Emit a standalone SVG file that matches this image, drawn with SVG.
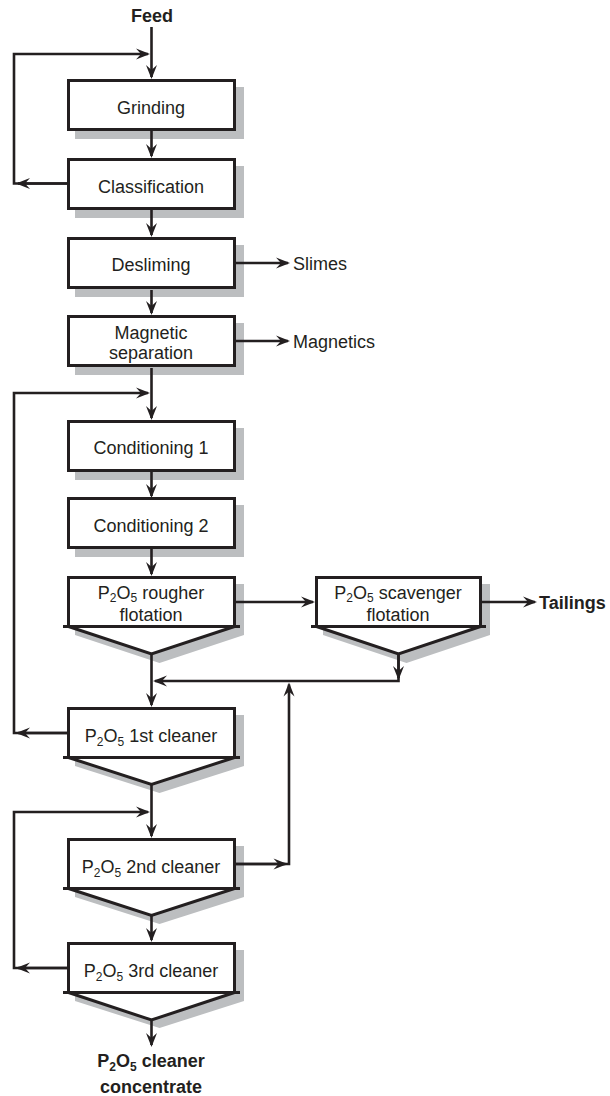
<svg xmlns="http://www.w3.org/2000/svg" width="610" height="1096" viewBox="0 0 610 1096">
  <style>
    .shadow { fill: #bcbec0; stroke: none; }
    .box { fill: #ffffff; stroke: #231f20; stroke-width: 3; }
    .cone { fill: #ffffff; stroke: #231f20; stroke-width: 3; stroke-linejoin: miter; }
    .lip { fill: none; stroke: #231f20; stroke-width: 3; }
    .lbl { font-family: "Liberation Sans", Arial, sans-serif; font-size: 18px; fill: #231f20; text-anchor: middle; }
    .out { font-family: "Liberation Sans", Arial, sans-serif; font-size: 18px; fill: #231f20; }
    .bold { font-weight: bold; }
    .sub { font-size: 12px; }
    .flow { fill: none; stroke: #231f20; stroke-width: 2.6; marker-end: url(#ah); }
  </style>
  <defs>
    <marker id="ah" viewBox="0 0 16 12" refX="13" refY="6" markerWidth="16" markerHeight="12" markerUnits="userSpaceOnUse" orient="auto">
      <path d="M15,6 L1,0.5 L6,6 L1,11.5 Z" fill="#231f20"/>
    </marker>
  </defs>

  <rect width="610" height="1096" fill="#ffffff"/>

  <!-- process units -->
  <g id="grinding">
    <rect class="shadow" x="75" y="87" width="169" height="52"/>
    <rect class="box" x="68.5" y="80.5" width="166" height="49"/>
    <text class="lbl" x="151" y="113.5">Grinding</text>
  </g>
  <g id="classification">
    <rect class="shadow" x="75" y="166" width="169" height="52"/>
    <rect class="box" x="68.5" y="159.5" width="166" height="49"/>
    <text class="lbl" x="151" y="192.5">Classification</text>
  </g>
  <g id="desliming">
    <rect class="shadow" x="75" y="245" width="169" height="52"/>
    <rect class="box" x="68.5" y="238.5" width="166" height="49"/>
    <text class="lbl" x="151" y="271">Desliming</text>
  </g>
  <g id="magnetic-separation">
    <rect class="shadow" x="75" y="323" width="169" height="52"/>
    <rect class="box" x="68.5" y="316.5" width="166" height="49"/>
    <text class="lbl" x="151" y="338.5">Magnetic</text>
    <text class="lbl" x="151" y="359">separation</text>
  </g>
  <g id="conditioning-1">
    <rect class="shadow" x="75" y="428" width="169" height="52"/>
    <rect class="box" x="68.5" y="421.5" width="166" height="49"/>
    <text class="lbl" x="151" y="454">Conditioning  1</text>
  </g>
  <g id="conditioning-2">
    <rect class="shadow" x="75" y="505" width="169" height="52"/>
    <rect class="box" x="68.5" y="498.5" width="166" height="49"/>
    <text class="lbl" x="151" y="531.5">Conditioning  2</text>
  </g>

  <!-- flotation cells: box with a conical underflow -->
  <g id="rougher-flotation">
    <polygon class="shadow" points="75,584 244,584 244,635 159.5,663 75,635"/>
    <polygon class="cone" points="68.5,626.5 151.5,654 234.5,626.5"/>
    <rect class="box" x="68.5" y="577.5" width="166" height="49"/>
    <path class="lip" d="M63,626.5 H240"/>
    <text class="lbl" x="151" y="598.5">P<tspan class="sub" dy="3.5">2</tspan><tspan dy="-3.5">O</tspan><tspan class="sub" dy="3.5">5</tspan><tspan dy="-3.5"> rougher</tspan></text>
    <text class="lbl" x="151" y="620.5">flotation</text>
  </g>
  <g id="scavenger-flotation">
    <polygon class="shadow" points="323,584 490,584 490,635 406.5,663 323,635"/>
    <polygon class="cone" points="316.5,626.5 398.5,654 480.5,626.5"/>
    <rect class="box" x="316.5" y="577.5" width="164" height="49"/>
    <path class="lip" d="M311,626.5 H486"/>
    <text class="lbl" x="398" y="598.5">P<tspan class="sub" dy="3.5">2</tspan><tspan dy="-3.5">O</tspan><tspan class="sub" dy="3.5">5</tspan><tspan dy="-3.5"> scavenger</tspan></text>
    <text class="lbl" x="398" y="620.5">flotation</text>
  </g>
  <g id="cleaner-1">
    <polygon class="shadow" points="75,715 244,715 244,766 159.5,793 75,766"/>
    <polygon class="cone" points="68.5,757.5 151.5,784.5 234.5,757.5"/>
    <rect class="box" x="68.5" y="708.5" width="166" height="49"/>
    <path class="lip" d="M63,757.5 H240"/>
    <text class="lbl" x="151" y="741.5">P<tspan class="sub" dy="4">2</tspan><tspan dy="-4">O</tspan><tspan class="sub" dy="4">5</tspan><tspan dy="-4"> 1st cleaner</tspan></text>
  </g>
  <g id="cleaner-2">
    <polygon class="shadow" points="75,846 244,846 244,897 159.5,924 75,897"/>
    <polygon class="cone" points="68.5,888.5 151.5,915.5 234.5,888.5"/>
    <rect class="box" x="68.5" y="839.5" width="166" height="49"/>
    <path class="lip" d="M63,888.5 H240"/>
    <text class="lbl" x="151" y="872.5">P<tspan class="sub" dy="4">2</tspan><tspan dy="-4">O</tspan><tspan class="sub" dy="4">5</tspan><tspan dy="-4"> 2nd cleaner</tspan></text>
  </g>
  <g id="cleaner-3">
    <polygon class="shadow" points="75,950 244,950 244,1001 159.5,1028 75,1001"/>
    <polygon class="cone" points="68.5,992.5 151.5,1020 234.5,992.5"/>
    <rect class="box" x="68.5" y="943.5" width="166" height="49"/>
    <path class="lip" d="M63,992.5 H240"/>
    <text class="lbl" x="151" y="976.5">P<tspan class="sub" dy="4">2</tspan><tspan dy="-4">O</tspan><tspan class="sub" dy="4">5</tspan><tspan dy="-4"> 3rd cleaner</tspan></text>
  </g>

  <!-- stream labels -->
  <g id="feed">
    <text class="lbl bold" x="152" y="22">Feed</text>
  </g>
  <g id="slimes">
    <text class="out" x="293" y="270">Slimes</text>
  </g>
  <g id="magnetics">
    <text class="out" x="293" y="348">Magnetics</text>
  </g>
  <g id="tailings">
    <text class="out bold" x="539" y="609">Tailings</text>
  </g>
  <g id="concentrate">
    <text class="lbl bold" x="151" y="1067">P<tspan class="sub" dy="4">2</tspan><tspan dy="-4">O</tspan><tspan class="sub" dy="4">5</tspan><tspan dy="-4"> cleaner</tspan></text>
    <text class="lbl bold" x="151" y="1093">concentrate</text>
  </g>

  <!-- streams -->
  <g id="connectors">
    <path class="flow" d="M151.5,27 V77"/>
    <path class="flow" d="M67,183.5 H14 V54 H148"/>
    <path class="flow" d="M67,183.5 H18"/>
    <path class="flow" d="M151.5,131 V156"/>
    <path class="flow" d="M151.5,210 V235"/>
    <path class="flow" d="M236,263 H288"/>
    <path class="flow" d="M151.5,290 V313"/>
    <path class="flow" d="M236,341 H288"/>
    <path class="flow" d="M151.5,368 V418"/>
    <path class="flow" d="M67,733 H14 V393 H148"/>
    <path class="flow" d="M67,733 H18"/>
    <path class="flow" d="M151.5,472 V496"/>
    <path class="flow" d="M151.5,549 V574"/>
    <path class="flow" d="M236,602 H313"/>
    <path class="flow" d="M482,602 H535"/>
    <path class="flow" d="M151.5,655 V705"/>
    <path class="flow" d="M398.5,655 V681 H155"/>
    <path class="flow" d="M398.5,655 V678"/>
    <path class="flow" d="M236,864 H289 V684.5"/>
    <path class="flow" d="M236,864 H285.5"/>
    <path class="flow" d="M151.5,785 V836"/>
    <path class="flow" d="M67,968 H14 V812 H148"/>
    <path class="flow" d="M67,968 H18"/>
    <path class="flow" d="M151.5,916 V940"/>
    <path class="flow" d="M151.5,1021 V1045"/>
  </g>
</svg>
